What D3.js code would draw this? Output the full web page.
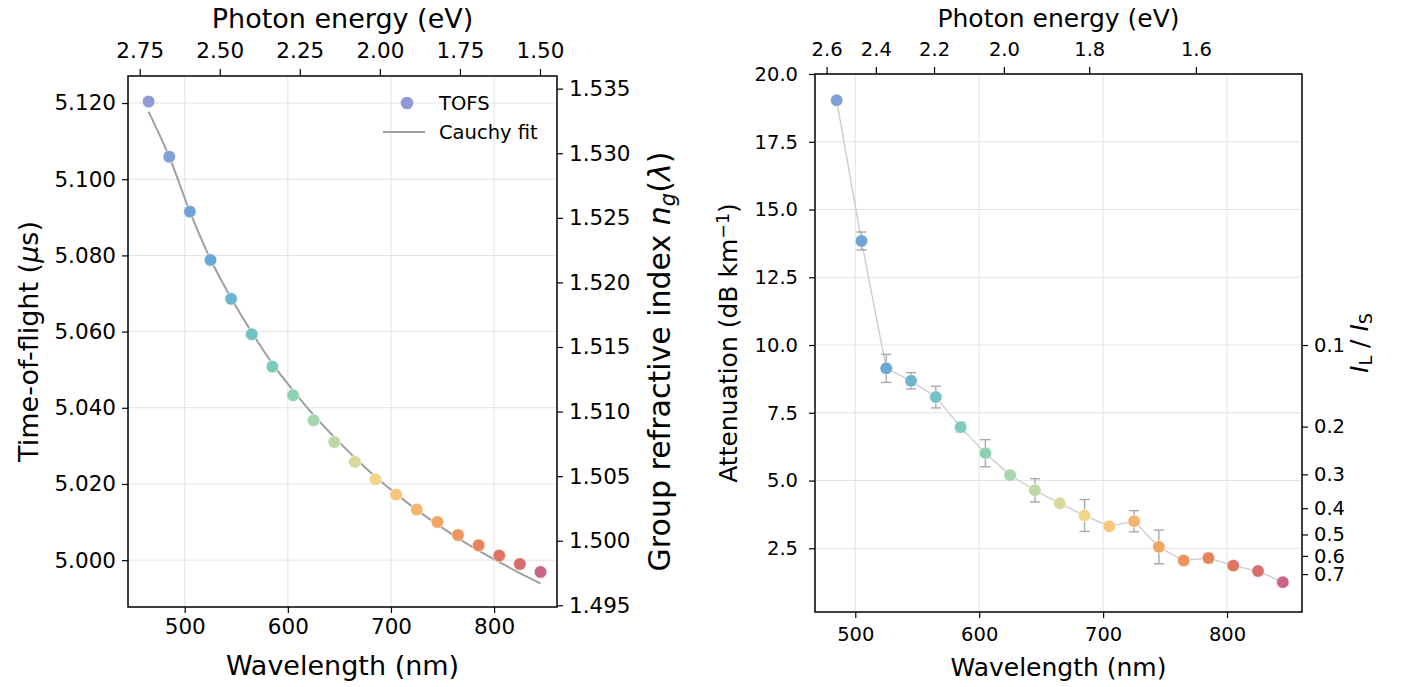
<!DOCTYPE html>
<html>
<head>
<meta charset="utf-8">
<script src="https://cdn.jsdelivr.net/npm/d3@7"></script>
<style>
body { margin: 0; background: #fff; }
text { font-family: "DejaVu Sans", sans-serif; fill: #000; }
</style>
</head>
<body>
<div id="chart"></div>
<script>
// measured wavelengths (nm)
const wavelengths = [465, 485, 505, 525, 545, 565, 585, 605, 625, 645, 665, 685, 705, 725, 745, 765, 785, 805, 825, 845];
// time of flight (us)
const tofs = [5.1204, 5.1059, 5.0915, 5.0788, 5.0686, 5.0593, 5.0508, 5.0433, 5.0367, 5.0310,
              5.0258, 5.0212, 5.0172, 5.0133, 5.0100, 5.0066, 5.0039, 5.0012, 4.9990, 4.9969];
// Cauchy fit at the same wavelengths
const cauchyFit = [5.1177, 5.1059, 5.0915, 5.0790, 5.0688, 5.0598, 5.0516, 5.0446, 5.0381, 5.0323,
                   5.0269, 5.0219, 5.0174, 5.0132, 5.0094, 5.0058, 5.0025, 4.9995, 4.9966, 4.9939];

const attWavelengths = [485, 505, 525, 545, 565, 585, 605, 625, 645, 665, 685, 705, 725, 745, 765, 785, 805, 825, 845];
const attenuation = [19.03, 13.84, 9.14, 8.68, 8.08, 6.97, 6.01, 5.20, 4.64, 4.16, 3.71, 3.31, 3.50, 2.55, 2.05, 2.14, 1.86, 1.66, 1.25];
const attError = [0.05, 0.33, 0.52, 0.30, 0.40, 0.18, 0.50, 0.08, 0.43, 0.08, 0.59, 0.08, 0.39, 0.62, 0.08, 0.17, 0.12, 0.12, 0.10];

const energyTicksLeft = [2.75, 2.50, 2.25, 2.00, 1.75, 1.50];
const energyTicksRight = [2.6, 2.4, 2.2, 2.0, 1.8, 1.6];
const tofTicks = [5.000, 5.020, 5.040, 5.060, 5.080, 5.100, 5.120];
const indexTicks = [1.495, 1.500, 1.505, 1.510, 1.515, 1.520, 1.525, 1.530, 1.535];
const wlTicks = [500, 600, 700, 800];
const attTicks = [2.5, 5.0, 7.5, 10.0, 12.5, 15.0, 17.5, 20.0];
const ratioTicks = [0.1, 0.2, 0.3, 0.4, 0.5, 0.6, 0.7];

const pointColors = ["#8f99d3", "#7f9fd7", "#72a3d6", "#69a8d5", "#6db5cf", "#74c2c6", "#7ccbbb", "#8fd1b5", "#a6d6b0", "#bdd8a2",
                     "#d9d99b", "#f3d587", "#f7c67b", "#f5b56f", "#f3a463", "#ee955e", "#e8845b", "#e07462", "#d86d6e", "#c96683"];
const colorOf = d3.scaleOrdinal().domain(wavelengths).range(pointColors);

const hc = 1239.84;

let svg = d3.select("#chart")
  .append("svg")
  .attr("width", 1403)
  .attr("height", 687);

function styleAxis(g, size) {
  g.select(".domain").remove();
  g.selectAll(".tick line").attr("stroke", "#000").attr("stroke-width", 1.2);
  g.selectAll(".tick text").attr("font-size", size).attr("fill", "#000");
}

// ---------------- left panel ----------------
let L = { left: 128, top: 76, width: 429, height: 531 };
let left = svg.append("g").attr("transform", `translate(${L.left}, ${L.top})`);

let xL = d3.scaleLinear().domain([445, 861]).range([0, L.width]);
let yL = d3.scaleLinear().domain([4.9877, 5.1271]).range([L.height, 0]);
let yN = d3.scaleLinear().domain([1.49487, 1.53598]).range([L.height, 0]);
let eL = d3.scaleLinear().domain([2.7865, 1.4469]).range([0, L.width]);

// grid
left.append("g").selectAll("line").data(wlTicks).enter().append("line")
  .attr("x1", d => xL(d)).attr("x2", d => xL(d))
  .attr("y1", 0).attr("y2", L.height)
  .attr("stroke", "#e3e3e3").attr("stroke-width", 1);
left.append("g").selectAll("line").data(tofTicks).enter().append("line")
  .attr("x1", 0).attr("x2", L.width)
  .attr("y1", d => yL(d)).attr("y2", d => yL(d))
  .attr("stroke", "#e3e3e3").attr("stroke-width", 1);

// fit line
left.append("path")
  .datum(wavelengths.map((w, i) => [w, cauchyFit[i]]))
  .attr("d", d3.line().x(d => xL(d[0])).y(d => yL(d[1])).curve(d3.curveMonotoneX))
  .attr("fill", "none")
  .attr("stroke", "#a0a0a0")
  .attr("stroke-width", 2);

left.append("g").selectAll("circle")
  .data(wavelengths)
  .enter()
  .append("circle")
  .attr("cx", d => xL(d))
  .attr("cy", (d, i) => yL(tofs[i]))
  .attr("r", 6.3)
  .attr("fill", d => colorOf(d))
  .attr("stroke", "#fff")
  .attr("stroke-width", 0.6);

// axes
left.append("g").attr("transform", `translate(0, ${L.height})`)
  .call(d3.axisBottom(xL).tickValues(wlTicks).tickSize(6).tickPadding(6))
  .call(g => styleAxis(g, 21.5));
left.append("g")
  .call(d3.axisTop(eL).tickValues(energyTicksLeft).tickFormat(d3.format(".2f")).tickSize(7).tickPadding(11))
  .call(g => styleAxis(g, 21.5));
left.append("g")
  .call(d3.axisLeft(yL).tickValues(tofTicks).tickFormat(d3.format(".3f")).tickSize(6).tickPadding(6))
  .call(g => styleAxis(g, 21.5));
left.append("g").attr("transform", `translate(${L.width}, 0)`)
  .call(d3.axisRight(yN).tickValues(indexTicks).tickFormat(d3.format(".3f")).tickSize(6).tickPadding(6))
  .call(g => styleAxis(g, 21.5));

left.append("rect")
  .attr("width", L.width).attr("height", L.height)
  .attr("fill", "none").attr("stroke", "#000").attr("stroke-width", 1.5);

// legend
let leg = left.append("g").attr("transform", `translate(${L.width - 174}, 27)`);
leg.append("circle").attr("cx", 24).attr("cy", 0).attr("r", 6.3).attr("fill", pointColors[0]);
leg.append("text").attr("x", 56).attr("y", 0).attr("dy", "0.36em").attr("font-size", 19.5).text("TOFS");
leg.append("line").attr("x1", 0).attr("x2", 42).attr("y1", 29).attr("y2", 29)
  .attr("stroke", "#a0a0a0").attr("stroke-width", 2);
leg.append("text").attr("x", 56).attr("y", 29).attr("dy", "0.36em").attr("font-size", 19.5).text("Cauchy fit");

// labels
left.append("text")
  .attr("x", L.width / 2).attr("y", L.height + 68)
  .attr("text-anchor", "middle").attr("font-size", 27)
  .text("Wavelength (nm)");
left.append("text")
  .attr("x", L.width / 2).attr("y", -48)
  .attr("text-anchor", "middle").attr("font-size", 27)
  .text("Photon energy (eV)");

let tl = left.append("text")
  .attr("transform", `translate(-90, ${L.height / 2}) rotate(-90)`)
  .attr("text-anchor", "middle").attr("font-size", 27);
tl.append("tspan").text("Time-of-flight (");
tl.append("tspan").attr("font-style", "italic").text("μ");
tl.append("tspan").text("s)");

let nl = left.append("text")
  .attr("transform", `translate(${L.width + 113}, ${L.height / 2 + 20}) rotate(-90)`)
  .attr("text-anchor", "middle").attr("font-size", 30);
nl.append("tspan").text("Group refractive index ");
nl.append("tspan").attr("font-style", "italic").text("n");
nl.append("tspan").attr("font-style", "italic").attr("font-size", 21).attr("baseline-shift", "-22%").text("g");
nl.append("tspan").text("(");
nl.append("tspan").attr("font-style", "italic").text("λ");
nl.append("tspan").text(")");

// ---------------- right panel ----------------
let R = { left: 815, top: 74, width: 487, height: 538 };
let right = svg.append("g").attr("transform", `translate(${R.left}, ${R.top})`);

let xR = d3.scaleLinear().domain([467.5, 860.5]).range([0, R.width]);
let yR = d3.scaleLinear().domain([0.15, 20]).range([R.height, 0]);

right.append("g").selectAll("line").data(wlTicks).enter().append("line")
  .attr("x1", d => xR(d)).attr("x2", d => xR(d))
  .attr("y1", 0).attr("y2", R.height)
  .attr("stroke", "#e3e3e3").attr("stroke-width", 1);
right.append("g").selectAll("line").data(attTicks).enter().append("line")
  .attr("x1", 0).attr("x2", R.width)
  .attr("y1", d => yR(d)).attr("y2", d => yR(d))
  .attr("stroke", "#e3e3e3").attr("stroke-width", 1);

right.append("path")
  .datum(attWavelengths.map((w, i) => [w, attenuation[i]]))
  .attr("d", d3.line().x(d => xR(d[0])).y(d => yR(d[1])))
  .attr("fill", "none")
  .attr("stroke", "#cdcdcd")
  .attr("stroke-width", 1.4);

let errG = right.append("g").attr("stroke", "#a8a8a8").attr("stroke-width", 1.4);
attWavelengths.forEach((w, i) => {
  let x = xR(w), y0 = yR(attenuation[i] - attError[i]), y1 = yR(attenuation[i] + attError[i]);
  errG.append("line").attr("x1", x).attr("x2", x).attr("y1", y0).attr("y2", y1);
  errG.append("line").attr("x1", x - 5).attr("x2", x + 5).attr("y1", y0).attr("y2", y0);
  errG.append("line").attr("x1", x - 5).attr("x2", x + 5).attr("y1", y1).attr("y2", y1);
});

right.append("g").selectAll("circle")
  .data(attWavelengths)
  .enter()
  .append("circle")
  .attr("cx", d => xR(d))
  .attr("cy", (d, i) => yR(attenuation[i]))
  .attr("r", 6.2)
  .attr("fill", d => colorOf(d))
  .attr("stroke", "#fff")
  .attr("stroke-width", 0.5);

right.append("g").attr("transform", `translate(0, ${R.height})`)
  .call(d3.axisBottom(xR).tickValues(wlTicks).tickSize(6).tickPadding(9))
  .call(g => styleAxis(g, 19.5));
right.append("g")
  .call(d3.axisTop(xR).tickValues(energyTicksRight.map(e => hc / e))
    .tickFormat(w => (hc / w).toFixed(1)).tickSize(7).tickPadding(11))
  .call(g => styleAxis(g, 19.5));
right.append("g")
  .call(d3.axisLeft(yR).tickValues(attTicks).tickFormat(d3.format(".1f")).tickSize(6).tickPadding(11))
  .call(g => styleAxis(g, 19.5));
right.append("g").attr("transform", `translate(${R.width}, 0)`)
  .call(d3.axisRight(yR).tickValues(ratioTicks.map(r => -10 * Math.log10(r)))
    .tickFormat(a => Math.pow(10, -a / 10).toFixed(1)).tickSize(6).tickPadding(6))
  .call(g => styleAxis(g, 19.5));

right.append("rect")
  .attr("width", R.width).attr("height", R.height)
  .attr("fill", "none").attr("stroke", "#000").attr("stroke-width", 1.5);

right.append("text")
  .attr("x", R.width / 2).attr("y", R.height + 64)
  .attr("text-anchor", "middle").attr("font-size", 25)
  .text("Wavelength (nm)");
right.append("text")
  .attr("x", R.width / 2).attr("y", -47)
  .attr("text-anchor", "middle").attr("font-size", 25)
  .text("Photon energy (eV)");

let al = right.append("text")
  .attr("transform", `translate(-78, ${R.height / 2}) rotate(-90)`)
  .attr("text-anchor", "middle").attr("font-size", 25);
al.append("tspan").text("Attenuation (dB km");
al.append("tspan").attr("font-size", 17.5).attr("baseline-shift", "45%").text("−1");
al.append("tspan").text(")");

let il = right.append("text")
  .attr("transform", `translate(${R.width + 66}, ${R.height / 2}) rotate(-90)`)
  .attr("text-anchor", "middle").attr("font-size", 25);
il.append("tspan").attr("font-style", "italic").text("I");
il.append("tspan").attr("font-size", 17.5).attr("baseline-shift", "-22%").text("L");
il.append("tspan").text(" / ");
il.append("tspan").attr("font-style", "italic").text("I");
il.append("tspan").attr("font-size", 17.5).attr("baseline-shift", "-22%").text("S");
</script>
</body>
</html>
